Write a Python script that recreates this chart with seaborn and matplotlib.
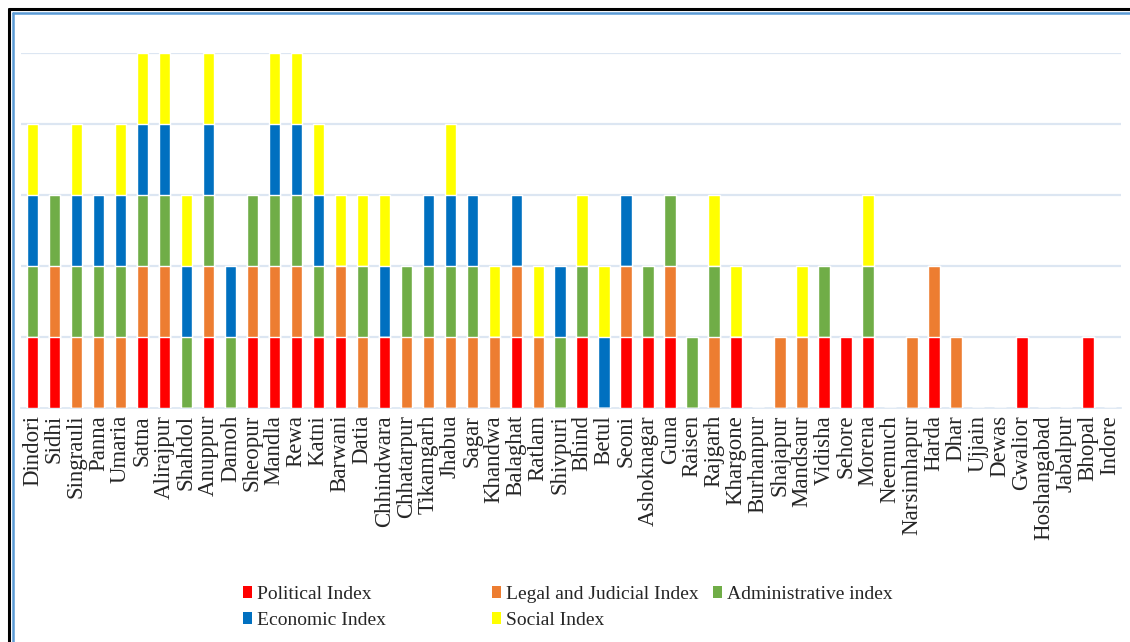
import seaborn as sns
import matplotlib.pyplot as plt
import pandas as pd
from matplotlib.patches import Patch
from matplotlib.lines import Line2D

districts = ['Dindori', 'Sidhi', 'Singrauli', 'Panna', 'Umaria', 'Satna', 'Alirajpur', 'Shahdol',
             'Anuppur', 'Damoh', 'Sheopur', 'Mandla', 'Rewa', 'Katni', 'Barwani', 'Datia',
             'Chhindwara', 'Chhatarpur', 'Tikamgarh', 'Jhabua', 'Sagar', 'Khandwa', 'Balaghat',
             'Ratlam', 'Shivpuri', 'Bhind', 'Betul', 'Seoni', 'Ashoknagar', 'Guna', 'Raisen',
             'Rajgarh', 'Khargone', 'Burhanpur', 'Shajapur', 'Mandsaur', 'Vidisha', 'Sehore',
             'Morena', 'Neemuch', 'Narsimhapur', 'Harda', 'Dhar', 'Ujjain', 'Dewas', 'Gwalior',
             'Hoshangabad', 'Jabalpur', 'Bhopal', 'Indore']

political = [1, 1, 0, 0, 0, 1, 1, 0, 1, 0, 1, 1, 1, 1, 1, 0, 1, 0, 0, 0, 0, 0, 1, 0, 0,
             1, 0, 1, 1, 1, 0, 0, 1, 0, 0, 0, 1, 1, 1, 0, 0, 1, 0, 0, 0, 1, 0, 0, 1, 0]
legal = [0, 1, 1, 1, 1, 1, 1, 0, 1, 0, 1, 1, 1, 0, 1, 1, 0, 1, 1, 1, 1, 1, 1, 1, 0,
         0, 0, 1, 0, 1, 0, 1, 0, 0, 1, 1, 0, 0, 0, 0, 1, 1, 1, 0, 0, 0, 0, 0, 0, 0]
administrative = [1, 1, 1, 1, 1, 1, 1, 1, 1, 1, 1, 1, 1, 1, 0, 1, 0, 1, 1, 1, 1, 0, 0, 0, 1,
                  1, 0, 0, 1, 1, 1, 1, 0, 0, 0, 0, 1, 0, 1, 0, 0, 0, 0, 0, 0, 0, 0, 0, 0, 0]
economic = [1, 0, 1, 1, 1, 1, 1, 1, 1, 1, 0, 1, 1, 1, 0, 0, 1, 0, 1, 1, 1, 0, 1, 0, 1,
            0, 1, 1, 0, 0, 0, 0, 0, 0, 0, 0, 0, 0, 0, 0, 0, 0, 0, 0, 0, 0, 0, 0, 0, 0]
social = [1, 0, 1, 0, 1, 1, 1, 1, 1, 0, 0, 1, 1, 1, 1, 1, 1, 0, 0, 1, 0, 1, 0, 1, 0,
          1, 1, 0, 0, 0, 0, 1, 1, 0, 0, 1, 0, 0, 1, 0, 0, 0, 0, 0, 0, 0, 0, 0, 0, 0]

labels = ['Political Index', 'Legal and Judicial Index', 'Administrative index',
          'Economic Index', 'Social Index']
colors = ['#FF0000', '#ED7D31', '#70AD47', '#0070C0', '#FFFF00']

df = pd.DataFrame({'District': districts, labels[0]: political, labels[1]: legal,
                   labels[2]: administrative, labels[3]: economic, labels[4]: social})

# cumulative heights, drawn from the top layer down so lower layers paint over
cum = df[labels].cumsum(axis=1)

sns.set_style('white')
plt.rcParams['font.family'] = ['Liberation Serif', 'DejaVu Serif']

fig = plt.figure(figsize=(11.3, 6.42), dpi=100)
ax = fig.add_axes([0.0189, 0.3645, 0.9732, 0.553])

for lab, col in reversed(list(zip(labels, colors))):
    sns.barplot(x=df['District'], y=cum[lab], color=col, width=0.52, saturation=1,
                ax=ax, zorder=3)

ax.set_ylim(0, 5)
ax.set_xlim(-0.5, len(districts) - 0.5)
ax.set_yticks([1, 2, 3, 4, 5])
ax.set_yticklabels([])
ax.yaxis.grid(True, color='#DCE6F2', linewidth=1.6)
ax.tick_params(axis='y', length=0)
ax.tick_params(axis='x', length=0, pad=5, labelsize=16.5)
ax.set_xticks(range(len(districts)))
ax.set_xticklabels(districts, rotation=90, va='top', ha='center')
ax.set_xlabel('')
ax.set_ylabel('')
for s in ['top', 'right', 'left']:
    ax.spines[s].set_visible(False)
ax.spines['bottom'].set_color('#DCE6F2')
ax.spines['bottom'].set_linewidth(1.2)

# legend laid out in three columns at the original's positions
columns = [([0, 3], 243), ([1, 4], 492), ([2], 713)]
for idx, xpix in columns:
    handles = [Patch(facecolor=colors[i], edgecolor='none', label=labels[i]) for i in idx]
    fig.legend(handles=handles, loc='upper left', bbox_to_anchor=(xpix / 1130, 0.0875),
               frameon=False, fontsize=14, handlelength=0.45, handleheight=0.6,
               handletextpad=0.25, labelspacing=0.45, borderpad=0, borderaxespad=0)

# outer frame lines
fig.add_artist(Line2D([8.5 / 1130, 8.5 / 1130], [0, 1 - 8.5 / 642], color='black', lw=2.2))
fig.add_artist(Line2D([8.5 / 1130, 1], [1 - 8.5 / 642, 1 - 8.5 / 642], color='black', lw=2.2))
fig.add_artist(Line2D([12.5 / 1130, 12.5 / 1130], [0, 1 - 12.5 / 642], color='#5B9BD5', lw=1.8))
fig.add_artist(Line2D([12.5 / 1130, 1], [1 - 12.5 / 642, 1 - 12.5 / 642], color='#5B9BD5', lw=1.8))

fig.savefig('out.png', dpi=100)
